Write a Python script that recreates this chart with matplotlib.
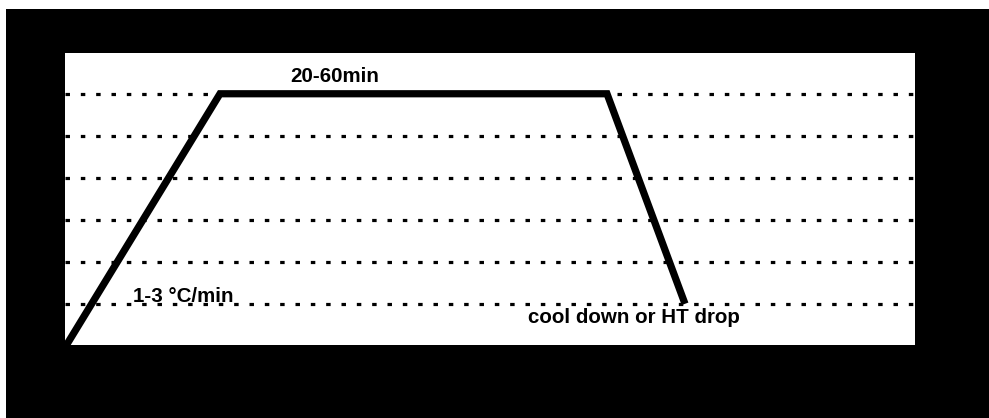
import matplotlib
matplotlib.use("Agg")
import matplotlib.pyplot as plt
from matplotlib.patches import Rectangle

# Heating profile (arbitrary time units vs. temperature levels)
time_pts = [1, 155, 542, 620]
temp_lvls = [0, 6, 6, 1]
grid_levels = [1, 2, 3, 4, 5, 6]
labels = ["20-60min", "1-3 °C/min", "cool down or HT drop"]
label_pos = [(225, 6.28), (68, 1.04), (463, 0.54)]

plt.rcParams['font.family'] = ['Liberation Sans', 'DejaVu Sans']

W, H = 989, 418
fig = plt.figure(figsize=(W / 100, H / 100), dpi=100, facecolor='white')

# black scan frame
fig.add_artist(Rectangle((6 / W, 0), 1, (H - 9) / H, transform=fig.transFigure,
                         facecolor='black', edgecolor='none', zorder=-1))

ax = fig.add_axes([65 / W, (H - 345) / H, 850 / W, 292 / H])
ax.set_facecolor('white')
ax.set_xlim(0, 850)
ax.set_ylim(0.02, 6.97)
for s in ax.spines.values():
    s.set_visible(False)
ax.set_xticks([])
ax.set_yticks([])

for lv in grid_levels:
    ax.axhline(lv, color='black', lw=2.3, linestyle=(0, (1.4, 3.4)), zorder=1)

ax.plot(time_pts, temp_lvls, color='black', lw=5.2, solid_joinstyle='miter',
        solid_capstyle='butt', zorder=3)

for txt, (x, y) in zip(labels, label_pos):
    ax.text(x, y, txt, fontsize=14.8, fontweight='bold', color='black',
            ha='left', va='baseline', zorder=4)

fig.savefig('out.png', dpi=100, facecolor='white')
